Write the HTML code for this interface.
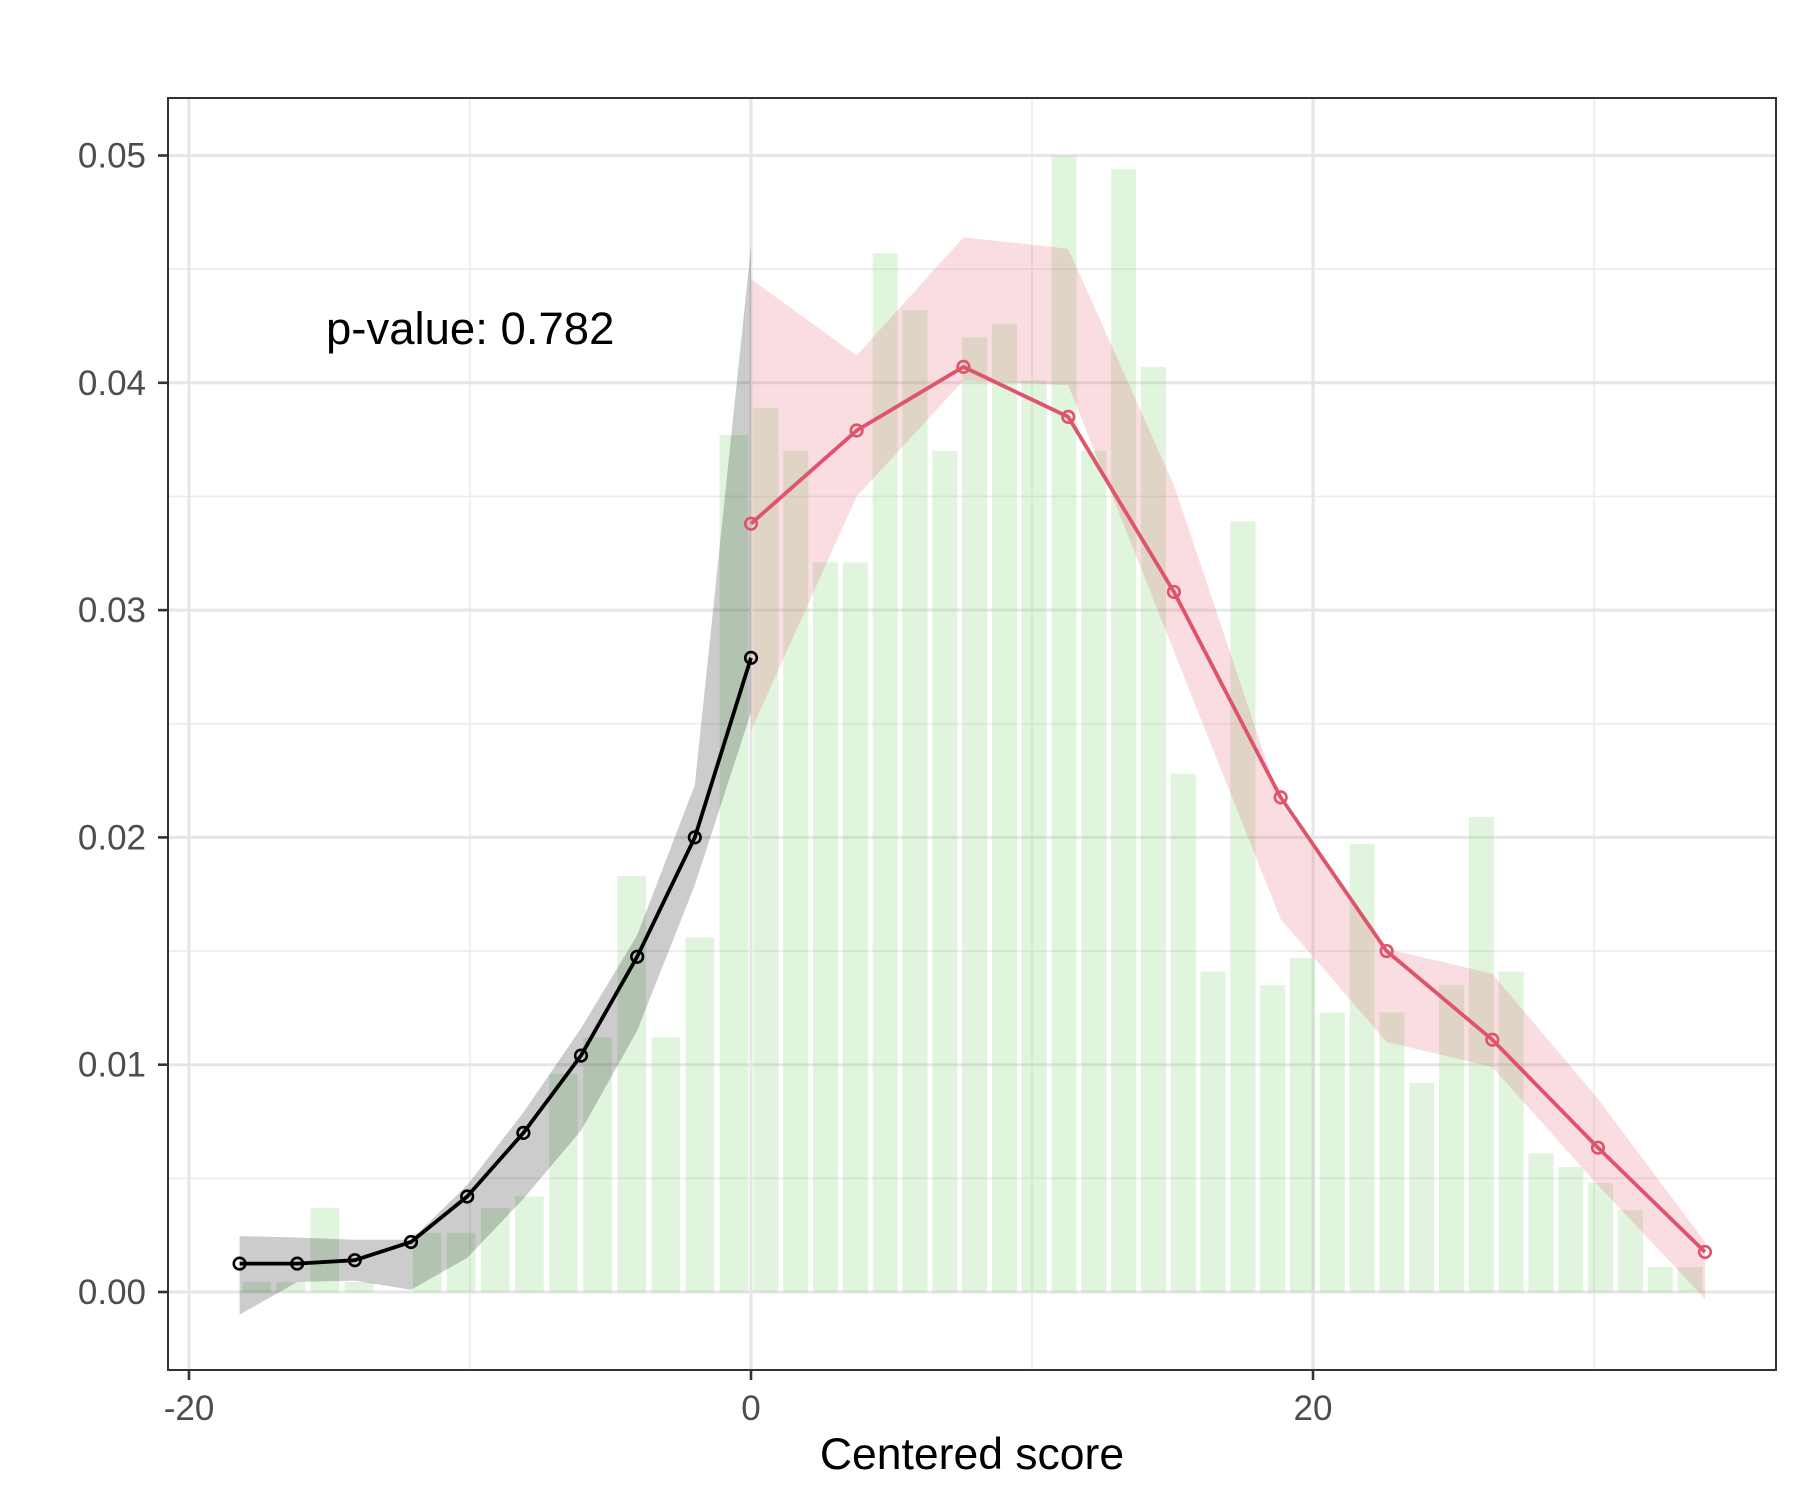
<!DOCTYPE html>
<html><head><meta charset="utf-8"><style>
html,body{margin:0;padding:0;background:#fff;}
svg text{font-family:"Liberation Sans",Arial,sans-serif;}
</style></head><body>
<svg id="chart" width="1800" height="1500" viewBox="0 0 1800 1500" xmlns="http://www.w3.org/2000/svg">
<rect x="0" y="0" width="1800" height="1500" fill="#fff"/>
<g id="grid"></g>
<g id="bars"></g>
<g id="bands"></g>
<g id="lines"></g>
<rect x="168" y="98" width="1608" height="1272" fill="none" stroke="#333" stroke-width="2"/>
<g id="axes"></g>
<text x="326" y="344" font-size="45.5" fill="#000">p-value: 0.782</text>
<text x="972" y="1469" font-size="44.5" fill="#000" text-anchor="middle">Centered score</text>
</svg>
<script>
// ---- data ----
const leftBinStart = -18.2, leftBinWidth = 1.2133;
const leftBars = [0.00044,0.00044,0.0037,0.00044,0,0.0026,0.0026,0.0037,0.0042,0.0096,0.0112,0.0183,0.0112,0.0156,0.0377];
const rightBinStart = 0, rightBinWidth = 1.0609;
const rightBars = [0.0389,0.0370,0.0321,0.0321,0.0457,0.0432,0.0370,0.0420,0.0426,0.0401,0.0500,0.0370,0.0494,0.0407,0.0228,0.0141,0.0339,0.0135,0.0147,0.0123,0.0197,0.0123,0.0092,0.0135,0.0209,0.0141,0.0061,0.0055,0.0048,0.0036,0.0011,0.0011];
const blackX = [-18.2,-16.15,-14.1,-12.1,-10.1,-8.1,-6.05,-4.05,-2.0,0];
const blackY = [0.00125,0.00125,0.0014,0.0022,0.0042,0.0070,0.0104,0.01475,0.0200,0.0279];
const blackUpper = [0.00246,0.0024,0.0023,0.0023,0.0047,0.0079,0.0116,0.0157,0.0223,0.0460];
const blackLower = [-0.001,0.00044,0.0005,0.0001,0.0015,0.0041,0.0071,0.0115,0.0179,0.0255];
const redX = [0,3.76,7.56,11.29,15.05,18.85,22.62,26.38,30.14,33.95];
const redY = [0.0338,0.0379,0.0407,0.0385,0.0308,0.02176,0.0150,0.0111,0.00635,0.00176];
const redUpper = [0.04456,0.0412,0.0464,0.0459,0.0355,0.0215,0.0151,0.0140,0.0085,0.0022];
const redLower = [0.0247,0.0350,0.0401,0.0399,0.0282,0.0164,0.0110,0.0099,0.0047,-0.0003];
const xTicks = [-20,0,20];
const xMinor = [-10,10,30];
const yTicks = [0,0.01,0.02,0.03,0.04,0.05];
const yTickLabels = ["0.00","0.01","0.02","0.03","0.04","0.05"];
const yMinor = [0.005,0.015,0.025,0.035,0.045];

// ---- scales ----
const PL=168, PR=1776, PT=98, PB=1370;
function X(v){return 751 + v*28.1;}
function Y(v){return 1292 - v*22730;}
const NS="http://www.w3.org/2000/svg";
function mk(tag, attrs, parent){const e=document.createElementNS(NS,tag);for(const k in attrs)e.setAttribute(k,attrs[k]);parent.appendChild(e);return e;}

const grid=document.getElementById('grid');
yMinor.forEach(v=>{const l=mk('line',{x1:PL,x2:PR,y1:Y(v),y2:Y(v),stroke:'#ebebeb','stroke-width':1.6},grid);

});
xMinor.forEach(v=>{const l=mk('line',{x1:X(v),x2:X(v),y1:PT,y2:PB,stroke:'#ebebeb','stroke-width':1.6},grid);

});
yTicks.forEach(v=>{const l=mk('line',{x1:PL,x2:PR,y1:Y(v),y2:Y(v),stroke:'#e6e6e6','stroke-width':3},grid);

});
xTicks.forEach(v=>{const l=mk('line',{x1:X(v),x2:X(v),y1:PT,y2:PB,stroke:'#e6e6e6','stroke-width':3},grid);

});

const bars=document.getElementById('bars');
function drawBars(vals,start,bw,name){
  vals.forEach((v,i)=>{
    const c=start+bw*(i+0.5);
    const x0=X(c-bw*0.42), x1=X(c+bw*0.42);
    const r=mk('rect',{x:x0,y:Y(v),width:x1-x0,height:Math.max(0,Y(0)-Y(v)),fill:'#8fd98a','fill-opacity':0.28},bars);
    
    
  });
}
drawBars(leftBars,leftBinStart,leftBinWidth,'histogram-bar-below');
drawBars(rightBars,rightBinStart,rightBinWidth,'histogram-bar-above');

const bands=document.getElementById('bands');
function band(xs,up,lo,color,name){
  let pts=xs.map((x,i)=>X(x)+','+Y(up[i]));
  for(let i=xs.length-1;i>=0;i--)pts.push(X(xs[i])+','+Y(lo[i]));
  const p=mk('polygon',{points:pts.join(' '),fill:color,'fill-opacity':0.2},bands);
  
  
}
band(blackX,blackUpper,blackLower,'#000','black-confidence-band');
band(redX,redUpper,redLower,'#DF536B','red-confidence-band');

const lines=document.getElementById('lines');
function series(xs,ys,color,name){
  const pl=mk('polyline',{points:xs.map((x,i)=>X(x)+','+Y(ys[i])).join(' '),fill:'none',stroke:color,'stroke-width':3.8,'stroke-linejoin':'round'},lines);
  
  
  xs.forEach((x,i)=>{
    const c=mk('circle',{cx:X(x),cy:Y(ys[i]),r:5.8,fill:'none',stroke:color,'stroke-width':2.6},lines);
    
    
  });
}
series(blackX,blackY,'#000','black-series');
series(redX,redY,'#DF536B','red-series');

const axes=document.getElementById('axes');
yTicks.forEach((v,i)=>{
  const t=mk('line',{x1:PL-10,x2:PL,y1:Y(v),y2:Y(v),stroke:'#333','stroke-width':2.6},axes);
  
  
  const tx=mk('text',{x:PL-22,y:Y(v)+12,'font-size':35,fill:'#4d4d4d','text-anchor':'end'},axes);
  tx.textContent=yTickLabels[i];
  
  
});
xTicks.forEach(v=>{
  const t=mk('line',{x1:X(v),x2:X(v),y1:PB,y2:PB+10,stroke:'#333','stroke-width':2.6},axes);
  
  
  const tx=mk('text',{x:X(v),y:PB+50,'font-size':35,fill:'#4d4d4d','text-anchor':'middle'},axes);
  tx.textContent=String(v);
  
  
});
</script>
</body></html>
